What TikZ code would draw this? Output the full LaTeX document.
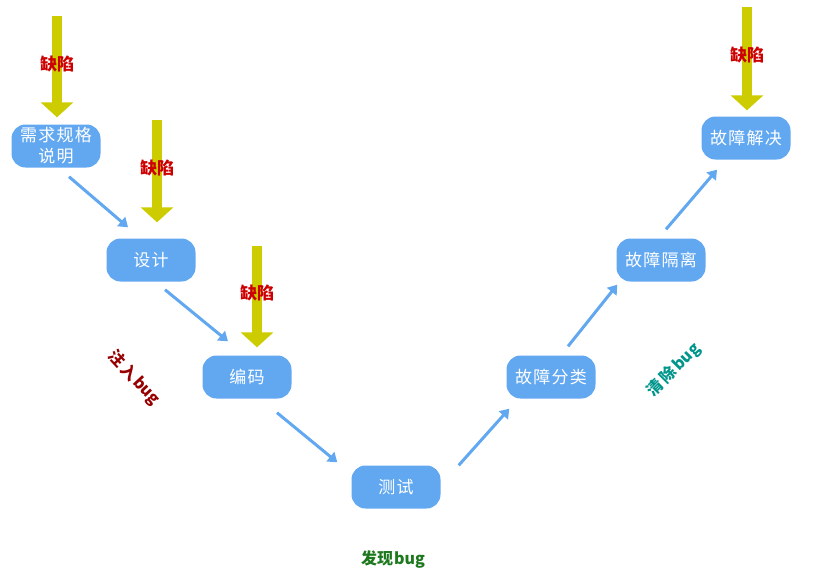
\documentclass[tikz,border=0pt]{standalone}
\usepackage{fontspec}
\setmainfont{Noto Sans CJK SC}
\newfontfamily\spacedfont{Noto Sans CJK SC}[LetterSpace=7]
\usetikzlibrary{calc,arrows.meta}
\definecolor{stepblue}{RGB}{98,168,241}
\definecolor{defyellow}{RGB}{204,204,0}
\definecolor{defred}{RGB}{204,0,0}
\definecolor{injred}{RGB}{150,0,0}
\definecolor{fixteal}{RGB}{0,150,140}
\definecolor{findgreen}{RGB}{30,120,30}
\tikzset{
	stage/.style={fill=stepblue, rounded corners=14pt, minimum width=89pt, minimum height=43pt, inner sep=0pt, text=white, align=center, font=\spacedfont\fontsize{17}{21}\selectfont},
	flow/.style={draw=stepblue, line width=3pt, -{Triangle[length=9pt,width=12pt]}},
	defect/.style={draw=defyellow, line width=10pt, -{Triangle[length=15pt,width=32pt]}},
	defectlabel/.style={text=defred, font=\fontsize{17}{17}\selectfont\bfseries},
	phase/.style={font=\fontsize{16}{17}\selectfont\bfseries, inner sep=1pt},
}

\begin{document}
\begin{tikzpicture}[x=1pt,y=-1pt]
		%%%%% START %%%%%
		\useasboundingbox (0,0) rectangle (814,579);
		
		\node[stage] (req) at (56, 146) {需求规格\\说明};
		\node[stage] (des) at (151, 260) {设计};
		\node[stage] (cod) at (247, 377) {编码};
		\node[stage] (tst) at (396, 487) {测试};
		\node[stage] (cls) at (551, 377) {故障分类};
		\node[stage] (iso) at (661, 260) {故障隔离};
		\node[stage] (sol) at (746, 138) {故障解决};
		
		\draw[flow] ([shift={(13,9)}]req.south) -- ([shift={(-23,-11)}]des.north);
		\draw[flow] ([shift={(14,8)}]des.south) -- ([shift={(-19,-14)}]cod.north);
		\draw[flow] ([shift={(30,14)}]cod.south) -- ([shift={(-14,-3)}]tst.north west);
		\draw[flow] ([shift={(18,0)}]tst.north east) -- ([shift={(3,10)}]cls.south west);
		\draw[flow] ([shift={(17,-9)}]cls.north) -- ([shift={(1,3)}]iso.south west);
		\draw[flow] ([shift={(5,-9)}]iso.north) -- ([shift={(-29,10)}]sol.south);
		
		\coordinate (d1) at (57, 16);
		\coordinate (d2) at (157, 120);
		\coordinate (d3) at (257, 246);
		\coordinate (d4) at (747, 7);
		\draw[defect, shorten >=7pt] (d1) -- (d1 |- req.north) node[defectlabel, pos=0.44] {缺陷};
		\draw[defect, shorten >=16pt] (d2) -- (d2 |- des.north) node[defectlabel, pos=0.41] {缺陷};
		\draw[defect, shorten >=8pt] (d3) -- (d3 |- cod.north) node[defectlabel, pos=0.43] {缺陷};
		\draw[defect, shorten >=6pt] (d4) -- (d4 |- sol.north) node[defectlabel, pos=0.44] {缺陷};
		
		\node[phase, text=injred, rotate=-47] (inject) at (134, 378) {注\kern2pt 入\kern2pt bug};
		\node[phase, text=fixteal, rotate=45] (clear) at (674, 370) {清\kern2pt 除\kern2pt bug};
		\node[phase, text=findgreen] (find) at (393, 559) {发现\kern1pt bug};
		%%%%% END %%%%%
	\end{tikzpicture}
\end{document}
